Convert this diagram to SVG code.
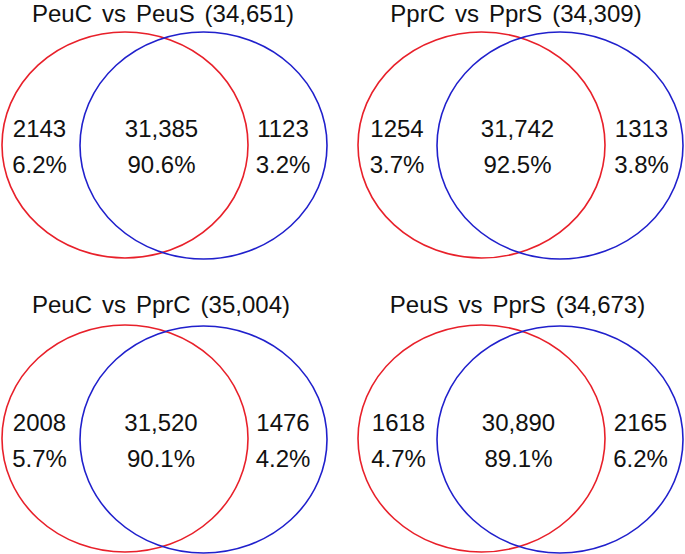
<svg xmlns="http://www.w3.org/2000/svg" width="685" height="554" viewBox="0 0 685 554">
<style>
.bg{fill:#ffffff}
.r{fill:none;stroke:#e8202a;stroke-width:1.6}
.b{fill:none;stroke:#2020cc;stroke-width:1.6}
.t{font-family:"Liberation Sans",Arial,sans-serif;font-size:24px;word-spacing:3.3px;fill:#111;text-anchor:middle}
.n{font-family:"Liberation Sans",Arial,sans-serif;font-size:24px;fill:#111;text-anchor:middle}
</style>
<rect class="bg" x="0" y="0" width="685" height="554"/>
<g id="venn-peuc-peus">
<text class="t" x="163" y="22">PeuC vs PeuS (34,651)</text>
<ellipse class="r" cx="125" cy="145" rx="123" ry="113"/>
<ellipse class="b" cx="203.5" cy="145.5" rx="123.5" ry="113.5"/>
<text class="n" x="39.5" y="137">2143</text>
<text class="n" x="39.5" y="173">6.2%</text>
<text class="n" x="161.5" y="137">31,385</text>
<text class="n" x="161.5" y="173">90.6%</text>
<text class="n" x="283" y="137">1123</text>
<text class="n" x="283" y="173">3.2%</text>
</g>
<g id="venn-pprc-pprs">
<text class="t" x="516" y="22">PprC vs PprS (34,309)</text>
<ellipse class="r" cx="481.5" cy="145" rx="123.5" ry="113"/>
<ellipse class="b" cx="560" cy="145.5" rx="123" ry="113.5"/>
<text class="n" x="397" y="137">1254</text>
<text class="n" x="397" y="173">3.7%</text>
<text class="n" x="517.5" y="137">31,742</text>
<text class="n" x="517.5" y="173">92.5%</text>
<text class="n" x="641.5" y="137">1313</text>
<text class="n" x="641.5" y="173">3.8%</text>
</g>
<g id="venn-peuc-pprc">
<text class="t" x="161" y="313">PeuC vs PprC (35,004)</text>
<ellipse class="r" cx="125" cy="438.5" rx="123" ry="113.5"/>
<ellipse class="b" cx="203.5" cy="439.5" rx="123.5" ry="113.5"/>
<text class="n" x="39.5" y="431">2008</text>
<text class="n" x="39.5" y="467">5.7%</text>
<text class="n" x="161" y="431">31,520</text>
<text class="n" x="161" y="467">90.1%</text>
<text class="n" x="283" y="431">1476</text>
<text class="n" x="283" y="467">4.2%</text>
</g>
<g id="venn-peus-pprs">
<text class="t" x="517.5" y="313">PeuS vs PprS (34,673)</text>
<ellipse class="r" cx="481.5" cy="438.5" rx="123.5" ry="113.5"/>
<ellipse class="b" cx="560" cy="439.5" rx="123" ry="113.5"/>
<text class="n" x="398.5" y="431">1618</text>
<text class="n" x="398.5" y="467">4.7%</text>
<text class="n" x="518.5" y="431">30,890</text>
<text class="n" x="518.5" y="467">89.1%</text>
<text class="n" x="640.5" y="431">2165</text>
<text class="n" x="640.5" y="467">6.2%</text>
</g>
</svg>
